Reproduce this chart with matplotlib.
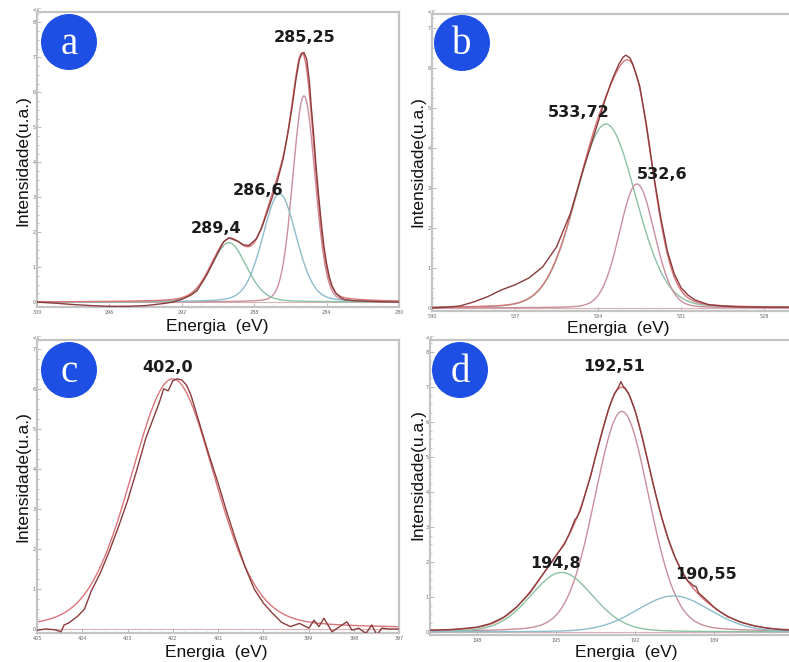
import numpy as np
import matplotlib
matplotlib.use("Agg")
import matplotlib.pyplot as plt
from matplotlib.patches import Circle
from matplotlib.ticker import MultipleLocator, AutoMinorLocator

# ---------------- data ----------------
# (a) C 1s
a_exp_e = [300, 299, 298, 297, 296, 295, 294, 293, 292.5, 292, 291.5, 291.15, 290.6, 290.0,
           289.7, 289.4, 289.1, 288.9, 288.6, 288.3, 287.9, 287.6, 287.3, 287.0, 286.7, 286.4,
           286.15, 285.9, 285.7, 285.5, 285.35, 285.25, 285.1, 284.95, 284.85, 284.7, 284.6,
           284.45, 284.3, 284.15, 284.0, 283.85, 283.7, 283.5, 283.2, 283.0, 282.5, 282, 281, 280]
a_exp_i = [0.0, -0.03, -0.07, -0.1, -0.12, -0.12, -0.1, -0.04, 0.0, 0.08, 0.2, 0.33, 0.8, 1.42,
           1.72, 1.84, 1.78, 1.74, 1.64, 1.62, 1.8, 2.1, 2.55, 3.0, 3.5, 4.1,
           4.8, 5.6, 6.35, 6.95, 7.12, 7.14, 6.95, 6.3, 5.6, 4.7, 4.0,
           3.1, 2.3, 1.6, 1.1, 0.72, 0.47, 0.26, 0.12, 0.07, 0.04, 0.03, 0.01, 0.0]
a_centers = [285.25, 286.6, 289.4]
a_heights = [5.9, 3.1, 1.7]
a_fwhm = [1.45, 2.2, 2.3]
a_labels = ["285,25", "286,6", "289,4"]

# (b) O 1s
b_exp_e = [540, 539.5, 539, 538.5, 538, 537.5, 537, 536.5, 536, 535.5, 535, 534.5, 534, 533.75,
           533.5, 533.25, 533.1, 533.0, 532.85, 532.75, 532.5, 532.25, 532, 531.75, 531.5,
           531.25, 531, 530.75, 530.5, 530, 529.5, 529, 528, 527]
b_exp_i = [0.0, 0.02, 0.05, 0.15, 0.28, 0.45, 0.58, 0.75, 1.03, 1.53, 2.37, 3.55, 4.65, 5.2,
           5.7, 6.1, 6.27, 6.32, 6.25, 6.1, 5.55, 4.55, 3.35, 2.3, 1.42,
           0.85, 0.5, 0.32, 0.2, 0.08, 0.05, 0.03, 0.02, 0.02]
b_centers = [533.72, 532.6]
b_heights = [4.6, 3.1]
b_fwhm = [2.55, 1.5]
b_labels = ["533,72", "532,6"]

# (c) N 1s
c_exp_e = [405.0, 404.8, 404.6, 404.47, 404.4, 404.3, 404.1, 403.95, 403.8, 403.6, 403.4, 403.2,
           403.0, 402.8, 402.6, 402.45, 402.3, 402.2, 402.1, 402.0, 401.9, 401.8, 401.7, 401.6,
           401.4, 401.2, 401.0, 400.8, 400.6, 400.4, 400.2, 400.0, 399.8, 399.6, 399.4, 399.2,
           398.99, 398.88, 398.77, 398.66, 398.48, 398.26, 398.15, 398.04, 397.89, 397.73,
           397.6, 397.49, 397.38, 397.2, 397.0]
c_exp_i = [-0.03, 0.0, -0.02, -0.07, 0.1, 0.15, 0.32, 0.5, 0.95, 1.4, 1.95, 2.55,
           3.2, 3.95, 4.75, 5.2, 5.65, 6.0, 5.95, 6.2, 6.25, 6.22, 6.1, 5.85,
           5.1, 4.35, 3.65, 2.9, 2.2, 1.55, 1.0, 0.65, 0.4, 0.17, 0.06, 0.14,
           0.02, 0.22, 0.06, 0.27, -0.07, 0.1, 0.18, -0.03, 0.02, -0.11,
           0.1, -0.15, 0.02, 0.0, 0.0]
c_centers = [402.0]
c_heights = [6.25]
c_fwhm = [2.2]
c_labels = ["402,0"]

# (d) B 1s
d_exp_e = [199.8, 199.0, 198.5, 198.0, 197.5, 197.0, 196.5, 196.0, 195.5, 195.0, 194.7, 194.5,
           194.3, 194.2, 194.1, 194.0, 193.7, 193.5, 193.25, 193.0, 192.8, 192.65, 192.55,
           192.45, 192.4, 192.25, 192.0, 191.75, 191.5, 191.25, 191.0, 190.75, 190.5, 190.25,
           190.0, 189.9, 189.8, 189.7, 189.6, 189.5, 189.35, 189.25, 189.0, 188.75, 188.5,
           188.0, 187.5, 187.0, 186.5, 186.0]
d_exp_i = [0.05, 0.07, 0.1, 0.14, 0.24, 0.42, 0.72, 1.12, 1.66, 2.2, 2.5, 2.82,
           3.2, 3.3, 3.45, 3.7, 4.45, 5.05, 5.75, 6.4, 6.8, 6.98, 7.15,
           7.0, 6.98, 6.8, 6.3, 5.6, 4.8, 4.0, 3.28, 2.66, 2.15, 1.76,
           1.45, 1.4, 1.32, 1.3, 1.12, 1.05, 0.95, 0.88, 0.7, 0.56, 0.44,
           0.28, 0.18, 0.11, 0.07, 0.05]
d_centers = [192.51, 194.8, 190.55]
d_heights = [6.3, 1.7, 1.03]
d_fwhm = [2.45, 2.8, 3.3]
d_labels = ["192,51", "194,8", "190,55"]


def pseudo_voigt(x, c, h, w, eta):
    g = np.exp(-4 * np.log(2) * (x - c) ** 2 / w ** 2)
    lor = 1.0 / (1.0 + 4 * (x - c) ** 2 / w ** 2)
    return h * ((1 - eta) * g + eta * lor)


# ---------------- figure ----------------
W, H = 789, 662
fig = plt.figure(figsize=(W / 100, H / 100), dpi=100)
fig.patch.set_facecolor("white")


def axes_px(l, t, r, b):
    return fig.add_axes([l / W, 1 - b / H, (r - l) / W, (b - t) / H])


EXP = "#8a3c3c"
FIT = "#d9757a"
PINK = "#c98f9d"
BLUE = "#8dbccb"
GREEN = "#8cc1a4"
BASE = "#d9b3b6"

LABEL_FONT = ["Liberation Sans", "DejaVu Sans"]
PEAK_FONT = ["DejaVu Sans"]


def style_axes(ax, xlim, ylim, xmajor, ymax):
    ax.set_xlim(*xlim)
    ax.set_ylim(*ylim)
    for s in ax.spines.values():
        s.set_color("#c4c4c4")
        s.set_linewidth(1.6)
    ax.xaxis.set_major_locator(MultipleLocator(xmajor))
    ax.xaxis.set_minor_locator(AutoMinorLocator(4))
    ax.yaxis.set_major_locator(MultipleLocator(1))
    ax.yaxis.set_minor_locator(AutoMinorLocator(4))
    ax.tick_params(which="both", direction="in", color="#aaaaaa", labelsize=3.5,
                   labelcolor="#666666", pad=2)
    ax.tick_params(which="major", length=3, width=0.6)
    ax.tick_params(which="minor", length=1.5, width=0.5)
    ax.tick_params(axis="y", pad=1)
    ax.set_yticks(np.arange(0, ymax + 1))
    ax.set_yticklabels([str(v) for v in range(0, ymax + 1)])
    ax.text(0.0, 1.0, "x10\u2074", transform=ax.transAxes, fontsize=2.8,
            color="#777777", ha="center", va="bottom")


def draw_panel(ax, exp_e, exp_i, centers, heights, fwhm, etas, colors, env=True):
    lo, hi = min(exp_e), max(exp_e)
    x = np.linspace(lo, hi, 1200)
    ax.plot([lo, hi], [0, 0], color=BASE, lw=0.8, zorder=1)
    total = np.zeros_like(x)
    for c, h, w, eta, col in zip(centers, heights, fwhm, etas, colors):
        y = pseudo_voigt(x, c, h, w, eta)
        total += y
        ax.plot(x, y, color=col, lw=1.0, zorder=2)
    if env:
        ax.plot(x, total, color=FIT, lw=1.0, zorder=3)
    ax.plot(exp_e, exp_i, color=EXP, lw=1.0, zorder=4)


def badge(cx, cy, letter):
    circ = Circle((cx / 100, (H - cy) / 100), 0.28, transform=fig.dpi_scale_trans,
                  facecolor="#1d4fe4", edgecolor="none", zorder=10)
    fig.add_artist(circ)
    fig.text(cx / W, 1 - (cy + 2) / H, letter, ha="center", va="center", color="white",
             fontsize=28, family=["Liberation Serif", "DejaVu Serif"], zorder=11)


def peak_text(ax, x, y, s):
    ax.text(x, y, s, ha="center", va="center", fontsize=11.5, fontweight="bold",
            family=PEAK_FONT, color="#1c1c1c", zorder=6)


def xlabel(cx, cy):
    fig.text(cx / W, 1 - cy / H, "Energia  (eV)", ha="center", va="center",
             fontsize=12.5, family=LABEL_FONT, color="#111111")


def ylabel(cx, cy):
    fig.text(cx / W, 1 - cy / H, "Intensidade(u.a.)", ha="center", va="center",
             rotation=90, fontsize=12.5, family=LABEL_FONT, color="#111111")


# (a)
ax = axes_px(37, 12, 399, 307)
style_axes(ax, (300, 280), (-0.14, 8.3), 4, 8)
draw_panel(ax, a_exp_e, a_exp_i, a_centers, a_heights, a_fwhm, [0.1, 0.2, 0.2],
           [PINK, BLUE, GREEN])
for s, (lx, ly) in zip(a_labels, [(285.22, 7.57), (287.76, 3.2), (290.08, 2.11)]):
    peak_text(ax, lx, ly, s)

# (b)
ax = axes_px(432, 14, 792, 311)
style_axes(ax, (540, 527), (-0.075, 7.35), 3, 7)
draw_panel(ax, b_exp_e, b_exp_i, b_centers, b_heights, b_fwhm, [0.1, 0.1],
           [GREEN, PINK])
for s, (lx, ly) in zip(b_labels, [(534.69, 4.88), (531.7, 3.33)]):
    peak_text(ax, lx, ly, s)

# (c)
ax = axes_px(37, 340, 399, 633)
style_axes(ax, (405, 397), (-0.1, 7.22), 1, 7)
draw_panel(ax, c_exp_e, c_exp_i, c_centers, c_heights, c_fwhm, [0.2], [FIT], env=False)
peak_text(ax, 402.11, 6.53, c_labels[0])

# (d)
ax = axes_px(430, 340, 792, 635)
style_axes(ax, (199.8, 186.05), (-0.086, 8.34), 3, 8)
draw_panel(ax, d_exp_e, d_exp_i, d_centers, d_heights, d_fwhm, [0.15, 0.15, 0.15],
           [PINK, GREEN, BLUE])
for s, (lx, ly) in zip(d_labels, [(192.82, 7.57), (195.03, 1.97), (189.3, 1.63)]):
    peak_text(ax, lx, ly, s)

# badges and axis titles
badge(69, 42, "a")
badge(462, 43, "b")
badge(69, 370, "c")
badge(460, 370, "d")

xlabel(217, 326)
xlabel(618, 328)
xlabel(216, 652)
xlabel(626, 652)
ylabel(23, 161)
ylabel(418, 162)
ylabel(23, 477)
ylabel(418, 475)

fig.savefig("out.png", dpi=100, facecolor="white")
